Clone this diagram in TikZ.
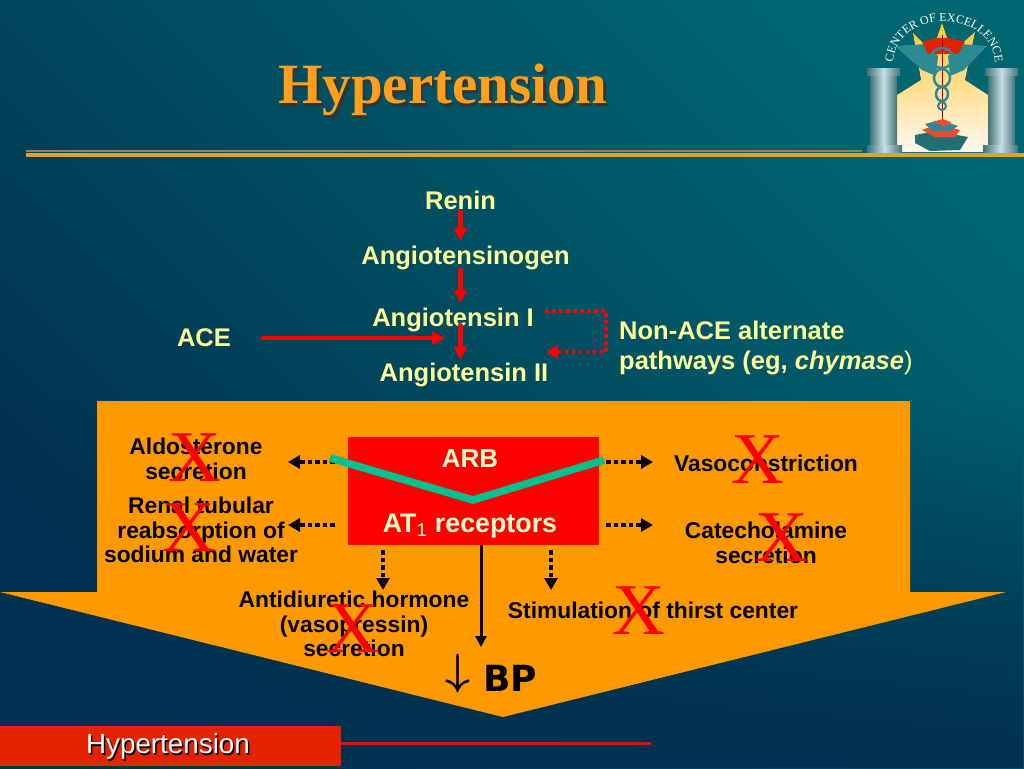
\documentclass[tikz,border=0pt]{standalone}
\usepackage{fontspec}
\setmainfont{Liberation Sans}
\newfontfamily\titlefont{Liberation Serif}
\newfontfamily\heavyfont{DejaVu Sans}
\usepackage{tikz}
\usetikzlibrary{arrows.meta,decorations.text,fadings}
\definecolor{bgdark}{HTML}{00304F}
\definecolor{bgmid}{HTML}{00425C}
\definecolor{bglight}{HTML}{006670}
\definecolor{gold}{HTML}{FF9F1C}
\definecolor{rulegold}{HTML}{E8A01E}
\definecolor{ruledark}{HTML}{B07F28}
\definecolor{panel}{HTML}{FF9900}
\definecolor{labelyellow}{HTML}{FFFF99}
\definecolor{boxtext}{HTML}{FFFFCC}
\definecolor{blocker}{HTML}{00BF90}
\definecolor{footred}{HTML}{E32200}
\definecolor{pillar}{HTML}{5FA3AA}
\definecolor{wing}{HTML}{2C8A92}
\begin{document}
\begin{tikzpicture}[x=1pt,y=-1pt,>=Latex,
  yellowlabel/.style={text=labelyellow,inner sep=0pt,font=\bfseries\fontsize{25.5}{30}\selectfont},
  blacklabel/.style={text=black,inner sep=0pt,align=center,font=\bfseries\fontsize{22.8}{24.6}\selectfont},
  boxlabel/.style={text=boxtext,inner sep=0pt,font=\bfseries\fontsize{26}{30}\selectfont},
  crossmark/.style={text=red,inner sep=0pt,font=\titlefont\fontsize{73}{73}\selectfont},
  redarrow/.style={-{Triangle[length=13pt,width=13pt]},red,line width=4.5pt},
  reddots/.style={-{Triangle[length=12pt,width=13pt]},red,line width=3.5pt,dash pattern=on 3.5pt off 3.5pt},
  blackdots/.style={-{Triangle[length=12pt,width=13pt]},black,line width=4pt,dash pattern=on 4.5pt off 3pt},
  pillarpart/.style={left color=pillar!70!black,right color=pillar!70!black,middle color=pillar!35!white}]
\useasboundingbox (0,0) rectangle (1024,768);
% background
\shade[top color=bglight,middle color=bgmid,bottom color=bgdark,shading angle=-45] (0,0) rectangle (1024,768);
\fill[bgdark,path fading=north] (0,400) rectangle (1024,768);
\draw[ruledark,line width=2pt] (26,151)--(862,151);
\draw[rulegold,line width=4pt] (26,154.5)--(1024,154.5);
\node[text=black!80,font=\titlefont\bfseries\fontsize{57}{60}\selectfont,inner sep=0pt] (titleshadow) at (445.5,92.5){Hypertension};
\node[text=gold,font=\titlefont\bfseries\fontsize{57}{60}\selectfont,inner sep=0pt] (title) at (443,90){Hypertension};
% logo
\fill[top color=orange!55!yellow!80!white,bottom color=orange!6!white] (897,152)--(897,95)--(921,80)--(913,33)--(932,52)--(942,23)--(952,52)--(975,32)--(965,80)--(988,95)--(988,152)--cycle;
\fill[wing] (895,46)--(926,44)--(938,56)--(936,76)--(922,70)--cycle;
\fill[wing] (987,46)--(960,44)--(948,56)--(950,76)--(964,70)--cycle;
\fill[footred] (922,42)--(936,38)--(950,38)--(965,42)--(958,54)--(928,54)--cycle;
\draw[red!70!black,line width=1pt] (942,35)--(942,122);
\draw[wing,line width=2.5pt] (942,58) ellipse (11 and 10);
\draw[wing,line width=2.5pt] (942,78) ellipse (8 and 9);
\draw[wing,line width=2.5pt] (942,94) ellipse (6 and 7);
\draw[wing,line width=2pt] (942,106) ellipse (4 and 4);
\fill[wing!80!black] (915,135)--(935,131)--(968,137)--(960,150)--(930,151)--(915,143)--cycle;
\fill[footred!80!white] (922,130)--(938,124)--(960,130)--(955,137)--(935,137)--cycle;
\fill[wing] (925,124)--(940,120)--(958,126)--(950,131)--(932,131)--cycle;
\fill[footred!80!white] (933,122)--(943,119)--(952,123)--(944,126)--cycle;
\draw[pillarpart,draw=none,shade] (870,75) rectangle (897,145);
\draw[pillarpart,draw=none,shade] (988,75) rectangle (1015,145);
\draw[pillarpart,draw=none,shade] (867,68) rectangle (900,75);
\draw[pillarpart,draw=none,shade] (985,68) rectangle (1018,75);
\draw[pillarpart,draw=none,shade] (867,145) rectangle (902,152);
\draw[pillarpart,draw=none,shade] (983,145) rectangle (1018,152);
\path[decorate,decoration={text along path,text align=center,text={|\titlefont\fontsize{12}{12}\selectfont\color{white}|CENTER OF EXCELLENCE}}] (893,64) .. controls (895,7) and (993,7) .. (995,64);
% panel
\fill[panel] (97,401)--(910,401)--(910,592)--(1006,592)--(503,717)--(0,592)--(97,592)--cycle;
\node[fill=red,minimum width=251pt,minimum height=108pt,inner sep=0pt] (atbox) at (473.5,491){};
\node[boxlabel] (arb) at (470,459){ARB};
\node[boxlabel,font=\bfseries\fontsize{26.8}{30}\selectfont] (receptors) at (470,526){AT\textsubscript{\mdseries 1} receptors};
% cascade
\node[yellowlabel] (renin) at (460.5,200){Renin};
\node[yellowlabel] (angen) at (465.5,258){Angiotensinogen};
\node[yellowlabel] (angone) at (453,320){Angiotensin I};
\node[yellowlabel] (angtwo) at (464,375){Angiotensin II};
\node[yellowlabel] (ace) at (204,338){ACE};
\node[yellowlabel,anchor=west,align=left] (nonace) at (619,348){Non-ACE alternate\\pathways (eg, \textit{chymase}\mdseries)};
\draw[redarrow,shorten >=5pt] (renin.south)--(renin.south |- angen.north);
\draw[redarrow,shorten >=5pt,shorten <=-2pt] (angen.south -| renin)--(renin |- angone.north);
\draw[redarrow,shorten >=3pt,shorten <=-8pt] (angone.south -| renin)--(renin |- angtwo.north);
\coordinate (acetip) at (445,338);
\draw[redarrow,line width=3.5pt,shorten <=30pt] (ace.east)--(acetip);
\coordinate (altstart) at (545,311); \coordinate (alttop) at (606,311);
\coordinate (altbottom) at (606,352); \coordinate (altend) at (546,352);
\draw[reddots] (altstart)--(alttop)--(altbottom)--(altend);
% effects
\node[blacklabel] (aldo) at (196,459){Aldosterone\\secretion};
\node[blacklabel] (renal) at (201,530){Renal tubular\\reabsorption of\\sodium and water};
\node[blacklabel] (vaso) at (766,463.5){Vasoconstriction};
\node[blacklabel] (cate) at (766,543){Catecholamine\\secretion};
\node[blacklabel] (adh) at (354,624){Antidiuretic hormone\\(vasopressin)\\secretion};
\node[blacklabel] (thirst) at (653,610){Stimulation of thirst center};
\coordinate (aldotip) at (288,462); \coordinate (renaltip) at (288,525);
\coordinate (vasotip) at (653,462); \coordinate (catetip) at (653,525);
\coordinate (adhtip) at (383,590); \coordinate (thirsttip) at (551,590);
\coordinate (bptip) at (481,647);
\draw[blackdots,shorten <=13pt] (atbox.west |- aldotip)--(aldotip);
\draw[blackdots,shorten <=13pt] (atbox.west |- renaltip)--(renaltip);
\draw[blackdots,shorten <=7pt] (atbox.east |- vasotip)--(vasotip);
\draw[blackdots,shorten <=7pt] (atbox.east |- catetip)--(catetip);
\draw[blackdots,shorten <=5pt] (atbox.south -| adhtip)--(adhtip);
\draw[blackdots,shorten <=5pt] (atbox.south -| thirsttip)--(thirsttip);
\draw[-{Triangle[length=11pt,width=11pt]},line width=3pt] (atbox.south -| bptip)--(bptip);
\draw[blocker,line width=7.5pt,miter limit=10] (330,458)--(473,500)--(604,460);
\node[crossmark] (xaldo) at (195,458){X};
\node[crossmark] (xrenal) at (189,528){X};
\node[crossmark] (xvaso) at (758,460){X};
\node[crossmark] (xcate) at (782,538){X};
\node[crossmark] (xthirst) at (639,611){X};
\node[crossmark] (xadh) at (353,629){X};
\node[inner sep=0pt,scale=1.75,font=\Huge\boldmath] (bparrow) at (458,674){$\downarrow$};
\node[inner sep=0pt,font=\heavyfont\bfseries\fontsize{36}{36}\selectfont] (bp) at (510,678){BP};
% footer
\fill[footred] (0,726) rectangle (341,766);
\draw[footred!85!black,line width=3pt] (341,743)--(651,743);
\node[text=black,inner sep=0pt,font=\fontsize{27.8}{30}\selectfont] (footshadow) at (169.5,748){Hypertension};
\node[text=white,inner sep=0pt,font=\fontsize{27.8}{30}\selectfont] (foot) at (168,746.5){Hypertension};
\end{tikzpicture}
\end{document}
